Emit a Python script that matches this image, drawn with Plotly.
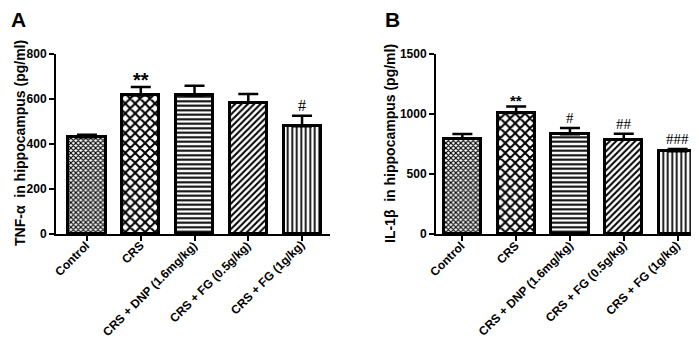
import plotly.graph_objects as go

categories = ["Control", "CRS", "CRS + DNP (1.6mg/kg)", "CRS + FG (0.5g/kg)", "CRS + FG (1g/kg)"]
tnf_values = [430, 616, 616, 584, 479]
tnf_err = [11, 37, 43, 38, 47]
tnf_marks = ["", "**", "", "", "#"]
il1b_values = [795, 1009, 831, 786, 689]
il1b_err = [39, 53, 53, 50, 19]
il1b_marks = ["", "**", "#", "##", "###"]

patterns = ["x", "x", "-", "/", "|"]
pat_sizes = [3.5, 7, 4.5, 4.5, 4.5]
pat_solid = [0.55, 0.5, 0.45, 0.45, 0.4]

W, H = 699, 340
FONT = "Liberation Sans, Arial, sans-serif"
SERIF = "Liberation Serif, Times New Roman, serif"

fig = go.Figure()
xs = list(range(len(categories)))

def add_panel(vals, errs, xa, ya):
    fig.add_trace(go.Bar(
        x=xs, y=vals, width=0.69, xaxis=xa, yaxis=ya,
        marker=dict(color="white", line=dict(color="black", width=3),
                    pattern=dict(shape=patterns, size=pat_sizes, solidity=pat_solid,
                                 fgcolor="black", bgcolor="white", fillmode="replace")),
        error_y=dict(type="data", symmetric=False, array=errs, arrayminus=[0]*len(errs),
                     color="black", thickness=2.5, width=10),
        showlegend=False))

add_panel(tnf_values, tnf_err, "x", "y")
add_panel(il1b_values, il1b_err, "x2", "y2")

ydom = [1 - 226 / H, 1 - 46 / H]
axis_common = dict(showline=True, linecolor="black", linewidth=2, ticks="outside", automargin=False,
                   tickwidth=2, ticklen=5, tickcolor="black", showgrid=False, zeroline=False,
                   tickfont=dict(family=FONT, size=12, color="black", weight="bold"))
xcommon = dict(axis_common, tickmode="array", tickvals=xs, showticklabels=False)

fig.update_layout(
    width=W, height=H, margin=dict(l=0, r=0, t=0, b=0),
    plot_bgcolor="white", paper_bgcolor="white", bargap=0,
    xaxis=dict(xcommon, domain=[48 / W, 322 / W], range=[-0.577, 4.52], anchor="y"),
    yaxis=dict(axis_common, domain=ydom, range=[0, 800], tickvals=[0, 200, 400, 600, 800], anchor="x"),
    xaxis2=dict(xcommon, domain=[428 / W, 697 / W], range=[-0.49, 4.51], anchor="y2"),
    yaxis2=dict(axis_common, domain=ydom, range=[0, 1500], tickvals=[0, 500, 1000, 1500], anchor="x2"),
)

def mark_ann(i, top, m, xref, yref, star_size, hash_size):
    if m.startswith("*"):
        return dict(x=i, y=top, xref=xref, yref=yref, text="<b>" + m + "</b>", showarrow=False,
                    xanchor="center", yanchor="bottom", yshift=-int(star_size * 0.3),
                    font=dict(family=FONT, size=star_size, color="black"))
    return dict(x=i, y=top, xref=xref, yref=yref, text=m, showarrow=False,
                xanchor="center", yanchor="bottom", yshift=0,
                font=dict(family=SERIF, size=hash_size, color="black"))

ann = []
for i, m in enumerate(tnf_marks):
    if m:
        ann.append(mark_ann(i, tnf_values[i] + tnf_err[i], m, "x", "y", 20, 16))
for i, m in enumerate(il1b_marks):
    if m:
        ann.append(mark_ann(i, il1b_values[i] + il1b_err[i], m, "x2", "y2", 15, 15))
# rotated category labels
for xref in ("x", "x2"):
    for i, c in enumerate(categories):
        ann.append(dict(x=i, y=1 - 228 / H, xref=xref, yref="paper", text="<b>" + c + "</b>",
                        showarrow=False, textangle=-45, xanchor="right", yanchor="top", xshift=8,
                        font=dict(family=FONT, size=12, color="black")))
ann.append(dict(x=10 / W, y=1 - 12 / H, xref="paper", yref="paper", text="<b>A</b>", showarrow=False,
                xanchor="center", yanchor="middle", font=dict(family=FONT, size=21, color="black")))
ann.append(dict(x=384 / W, y=1 - 12 / H, xref="paper", yref="paper", text="<b>B</b>", showarrow=False,
                xanchor="center", yanchor="middle", font=dict(family=FONT, size=21, color="black")))
ann.append(dict(x=12 / W, y=1 - 135 / H, xref="paper", yref="paper", text="<b>TNF-α  in hippocampus (pg/ml)</b>",
                showarrow=False, textangle=-90, xanchor="center", yanchor="middle",
                font=dict(family=FONT, size=14, color="black")))
ann.append(dict(x=382 / W, y=1 - 136 / H, xref="paper", yref="paper", text="<b>IL-1β  in hippocampus (pg/ml)</b>",
                showarrow=False, textangle=-90, xanchor="center", yanchor="middle",
                font=dict(family=FONT, size=14, color="black")))
fig.update_layout(annotations=ann)

fig.write_html("out.html")
